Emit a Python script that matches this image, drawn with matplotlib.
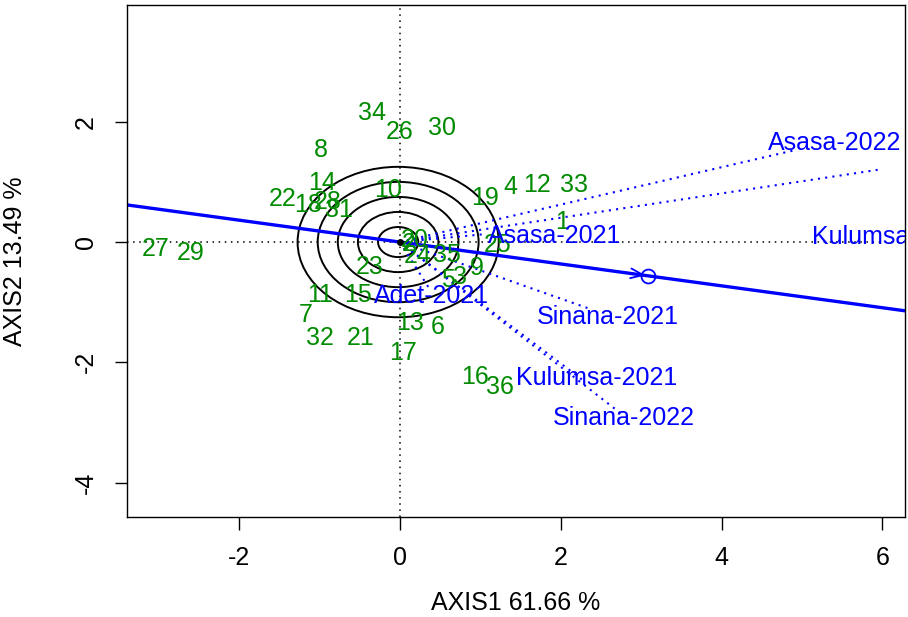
import matplotlib.pyplot as plt
from matplotlib.patches import Circle

plt.rcParams['font.family'] = ['Liberation Sans', 'DejaVu Sans']
plt.rcParams['axes.unicode_minus'] = False

# genotype scores (AXIS1, AXIS2)
genotypes = ['1', '2', '3', '4', '5', '6', '7', '8', '9', '10', '11', '12',
             '13', '14', '15', '16', '17', '18', '19', '20', '21', '22', '23', '24',
             '25', '26', '27', '28', '29', '30', '31', '32', '33', '34', '35', '36']
gen_x = [2.02, 0.11, 0.75, 1.37, 0.60, 0.47, -1.17, -0.98, 0.96, -0.14, -0.99, 1.71,
         0.13, -0.96, -0.52, 0.94, 0.04, -1.14, 1.06, 0.19, -0.49, -1.46, -0.37, 0.22,
         1.22, 0.00, -3.04, -0.89, -2.60, 0.52, -0.76, -0.99, 2.16, -0.35, 0.59, 1.25]
gen_y = [0.33, -0.03, -0.58, 0.91, -0.63, -1.41, -1.21, 1.53, -0.43, 0.86, -0.88, 0.95,
         -1.35, 0.98, -0.88, -2.24, -1.84, 0.61, 0.73, 0.03, -1.59, 0.71, -0.41, -0.23,
         -0.05, 1.83, -0.12, 0.66, -0.18, 1.89, 0.53, -1.59, 0.95, 2.14, -0.22, -2.41]

# environment vectors and where their names sit
environments = ['Asasa-2022', 'Kulumsa-2022', 'Asasa-2021', 'Adet-2021',
                'Sinana-2021', 'Kulumsa-2021', 'Sinana-2022']
env_x = [4.92, 5.94, 1.05, 0.38, 2.34, 2.31, 2.74]
env_y = [1.53, 1.20, 0.13, -0.80, -1.10, -2.33, -2.84]
env_lab_x = [5.41, 6.12, 1.93, 0.40, 2.58, 2.45, 2.78]
env_lab_y = [1.64, 0.08, 0.10, -0.90, -1.25, -2.26, -2.92]

# average environment axis and rings
aea_slope = -0.182
aea_point = (3.09, -0.56)
ring_radii = [0.25, 0.5, 0.75, 1.0, 1.25]

x_ticks = [-2, 0, 2, 4, 6]
y_ticks = [-4, -2, 0, 2]

green = '#008B00'
blue = '#0000FF'
fs = 18

fig = plt.figure(figsize=(9.08, 6.17), dpi=100)
ax = fig.add_axes([0.1399, 0.1621, 0.8568, 0.8298])

ax.set_xlim(-3.39, 6.28)
ax.set_ylim(-4.57, 3.94)

ax.axhline(0, color='black', lw=1.1, ls=(0, (1, 3)))
ax.axvline(0, color='black', lw=1.1, ls=(0, (1, 3)))

for r in ring_radii:
    ax.add_patch(Circle((-0.02, 0), r, fill=False, ec='black', lw=1.4))

for ex, ey in zip(env_x, env_y):
    ax.plot([0, ex], [0, ey], color=blue, lw=1.5, ls=(0, (1, 2.5)))

ax.axline((0, 0), slope=aea_slope, color=blue, lw=2.4)
ax.plot(0, 0, 'o', color='black', ms=4)
ax.plot(aea_point[0], aea_point[1], 'o', mfc='none', mec=blue, ms=10, mew=1.3)
ax.annotate('', xy=aea_point, xytext=(aea_point[0] - 0.5, aea_point[1] - 0.5 * aea_slope),
            arrowprops=dict(arrowstyle='->,head_length=0.9,head_width=0.35', color=blue, lw=1.3))

for name, gx, gy in zip(genotypes, gen_x, gen_y):
    ax.text(gx, gy, name, color=green, fontsize=fs, ha='center', va='center', clip_on=True)

for name, lx, ly in zip(environments, env_lab_x, env_lab_y):
    ax.text(lx, ly, name, color=blue, fontsize=fs, ha='center', va='center', clip_on=True)

ax.set_xticks(x_ticks)
ax.set_yticks(y_ticks)
ax.set_yticklabels([str(t) for t in y_ticks], rotation=90, va='center')
ax.tick_params(direction='out', length=9, width=1, labelsize=fs, pad=12)
for s in ax.spines.values():
    s.set_linewidth(1)

ax.set_xlabel('AXIS1 61.66 %', fontsize=fs, labelpad=15)
ax.set_ylabel('AXIS2 13.49 %', fontsize=fs, labelpad=34)

fig.savefig('out.png', dpi=100)
